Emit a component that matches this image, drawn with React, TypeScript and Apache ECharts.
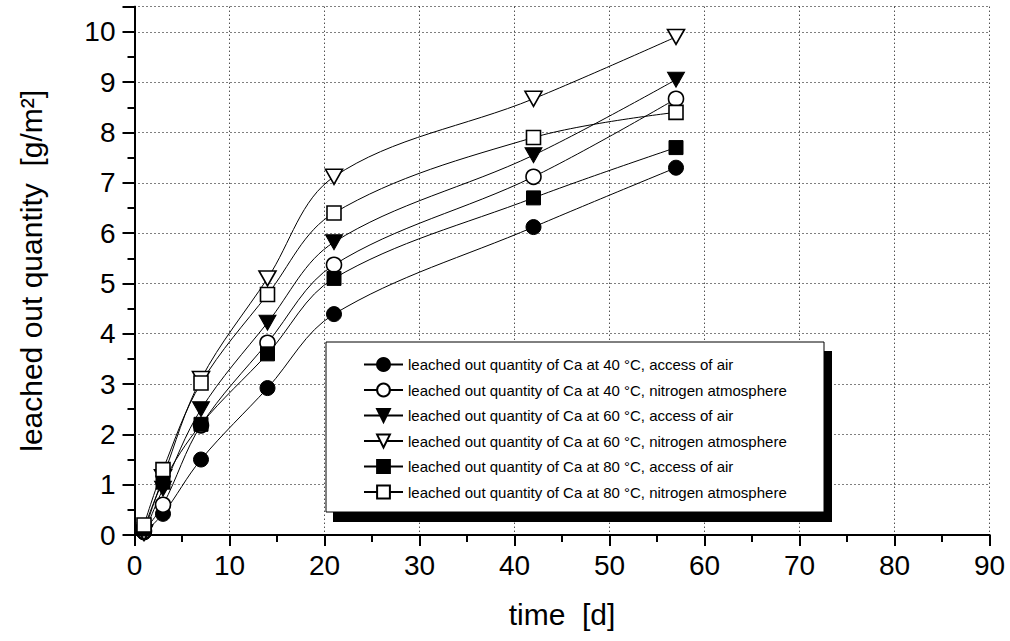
import React, { useEffect, useRef } from "react";
import * as echarts from "echarts";

const days = [1, 3, 7, 14, 21, 42, 57];
const ca40Air = [0.05, 0.42, 1.5, 2.92, 4.39, 6.12, 7.3];
const ca40N2 = [0.08, 0.6, 2.18, 3.82, 5.37, 7.12, 8.67];
const ca60Air = [0.03, 0.92, 2.5, 4.22, 5.82, 7.55, 9.05];
const ca60N2 = [0.05, 1.15, 3.1, 5.1, 7.12, 8.67, 9.9];
const ca80Air = [0.12, 1.05, 2.2, 3.6, 5.1, 6.7, 7.7];
const ca80N2 = [0.2, 1.3, 3.02, 4.78, 6.4, 7.9, 8.4];

const seriesNames = [
  "leached out quantity of Ca at 40 °C, access of air",
  "leached out quantity of Ca at 40 °C, nitrogen atmosphere",
  "leached out quantity of Ca at 60 °C, access of air",
  "leached out quantity of Ca at 60 °C, nitrogen atmosphere",
  "leached out quantity of Ca at 80 °C, access of air",
  "leached out quantity of Ca at 80 °C, nitrogen atmosphere",
];

const FONT = "Liberation Sans, Arial, sans-serif";
const TRI_DOWN = "path://M0,0 L20,0 L10,17 Z";

export default function App() {
  const ref = useRef<HTMLDivElement>(null);

  useEffect(() => {
    if (!ref.current) return;
    const chart = echarts.init(ref.current, undefined, { renderer: "svg" });

    const values = [ca40Air, ca40N2, ca60Air, ca60N2, ca80Air, ca80N2];
    const symbols = ["circle", "circle", TRI_DOWN, TRI_DOWN, "rect", "rect"];
    const sizes: any[] = [15, 15, [17, 15], [17, 15], 14, 14];
    const filled = [true, false, true, false, true, false];

    const series = values.map((vals, i) => ({
      name: seriesNames[i],
      type: "line",
      data: days.map((d, j) => [d, vals[j]]),
      smooth: 0.35,
      symbol: symbols[i],
      symbolSize: sizes[i],
      showAllSymbol: true,
      lineStyle: { color: "#000", width: 1 },
      itemStyle: filled[i]
        ? { color: "#000", borderColor: "#000", borderWidth: 1 }
        : { color: "#fff", borderColor: "#000", borderWidth: 1.6 },
      emphasis: { disabled: true },
      z: 2,
    }));

    const gridLine = { show: true, lineStyle: { color: "#000", width: 1, type: [1, 3] as any } };
    const axisLine = { show: true, lineStyle: { color: "#000", width: 2 } };

    chart.setOption({
      animation: false,
      textStyle: { fontFamily: FONT, color: "#000" },
      grid: { left: 134.5, right: 20.5, top: 6.7, bottom: 106, containLabel: false },
      xAxis: [
        {
          type: "value",
          min: 0,
          max: 90,
          interval: 10,
          position: "bottom",
          name: "time  [d]",
          nameLocation: "middle",
          nameGap: 64,
          nameTextStyle: { fontSize: 30, fontFamily: FONT, color: "#000" },
          axisLine,
          axisTick: { show: true, inside: false, length: 11, lineStyle: { color: "#000", width: 2 } },
          minorTick: { show: true, splitNumber: 2, length: 7, lineStyle: { color: "#000", width: 2 } },
          splitLine: gridLine,
          axisLabel: { fontSize: 28, color: "#000", margin: 16, fontFamily: FONT },
        },
        {
          type: "value",
          min: 0,
          max: 90,
          interval: 10,
          position: "top",
          axisLine,
          axisTick: { show: true, inside: true, length: 2, lineStyle: { color: "#000", width: 2 } },
          minorTick: { show: true, splitNumber: 2, length: 2, lineStyle: { color: "#000", width: 2 } },
          splitLine: { show: false },
          axisLabel: { show: false },
        },
      ],
      yAxis: [
        {
          type: "value",
          min: 0,
          max: 10.5,
          interval: 1,
          position: "left",
          name: "leached out quantity  [g/m²]",
          nameLocation: "middle",
          nameGap: 88,
          nameTextStyle: { fontSize: 30, fontFamily: FONT, color: "#000" },
          axisLine,
          axisTick: { show: true, inside: false, length: 11, lineStyle: { color: "#000", width: 2 } },
          minorTick: { show: true, splitNumber: 2, length: 7, lineStyle: { color: "#000", width: 2 } },
          splitLine: gridLine,
          axisLabel: { fontSize: 28, color: "#000", margin: 19, fontFamily: FONT, showMaxLabel: false },
        },
        {
          type: "value",
          min: 0,
          max: 10.5,
          interval: 1,
          position: "right",
          axisLine,
          axisTick: { show: true, inside: true, length: 12, lineStyle: { color: "#000", width: 2 } },
          minorTick: { show: true, splitNumber: 2, length: 6, lineStyle: { color: "#000", width: 2 } },
          splitLine: { show: false },
          axisLabel: { show: false },
        },
      ],
      legend: {
        show: true,
        orient: "vertical",
        left: 363,
        top: 357,
        itemWidth: 39,
        itemHeight: 16,
        itemGap: 10.5,
        padding: 0,
        selectedMode: false,
        textStyle: { fontSize: 15, color: "#000", fontFamily: FONT },
        data: seriesNames,
        z: 10,
      },
      graphic: [
        {
          type: "rect",
          z: 3,
          shape: { x: 333, y: 351, width: 499, height: 171 },
          style: { fill: "#000" },
        },
        {
          type: "rect",
          z: 4,
          shape: { x: 326, y: 342, width: 498, height: 170 },
          style: { fill: "#fff", stroke: "#000", lineWidth: 1 },
        },
      ],
      series,
    });

    return () => chart.dispose();
  }, []);

  return (
    <div
      ref={ref}
      style={{ position: "fixed", left: 0, top: 0, width: 1010, height: 641, background: "#fff" }}
    />
  );
}
